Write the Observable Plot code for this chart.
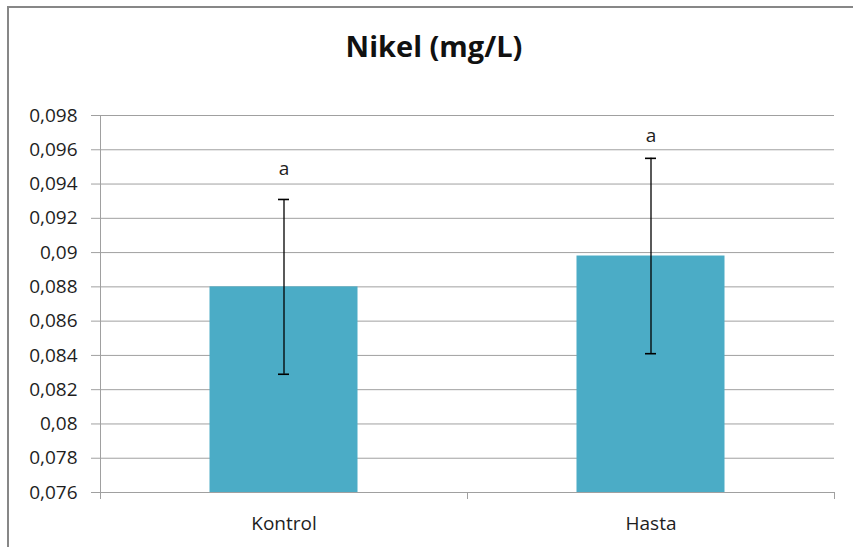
<!DOCTYPE html>
<html><head><meta charset="utf-8">
<script src="https://cdn.jsdelivr.net/npm/d3@7"></script>
<script src="https://cdn.jsdelivr.net/npm/@observablehq/plot@0.6"></script>
<style>
html,body{margin:0;padding:0;background:#fff;}
#wrap{position:relative;width:853px;height:547px;overflow:hidden;background:#fff;font-family:"Open Sans",sans-serif;}
#frame{position:absolute;left:7px;top:6px;width:900px;height:600px;border:2px solid #878787;box-sizing:border-box;}
#title{position:absolute;left:0;width:868px;top:31px;line-height:30px;text-align:center;font-weight:700;font-size:29px;color:#111;}
#chart{position:absolute;left:0;top:0;}
</style></head>
<body>
<div id="wrap"><div id="frame"></div><div id="title">Nikel (mg/L)</div><div id="chart"></div></div>
<script>
const titleText = "Nikel (mg/L)";
const categories = ["Kontrol", "Hasta"];
const means = [0.0880, 0.0898];
const errors = [0.0051, 0.0057];
const sigLetters = ["a", "a"];
const letterY = [0.0949, 0.0968];
const yDomain = [0.076, 0.098];
const yTicks = [0.076, 0.078, 0.08, 0.082, 0.084, 0.086, 0.088, 0.09, 0.092, 0.094, 0.096, 0.098];

const rows = categories.map((c, i) => ({group: c, mean: means[i], err: errors[i], letter: sigLetters[i], ly: letterY[i]}));
const fmt = d => String(+d.toFixed(3)).replace(".", ",");
const gridColor = "#a0a0a0";
const textColor = "#1e1e1e";
const bandW = (853 - 100 - 19) / categories.length;
const barInset = (bandW - 148) / 2;
const capInset = (bandW - 11) / 2;

const chart = Plot.plot({
  width: 853, height: 547,
  marginLeft: 100, marginRight: 19, marginTop: 115, marginBottom: 55,
  style: {background: "transparent", fontFamily: "'Open Sans', sans-serif", fontSize: "19px", color: textColor},
  x: {domain: categories, padding: 0},
  y: {domain: yDomain},
  marks: [
    Plot.gridY(yTicks, {stroke: gridColor, strokeOpacity: 1, strokeWidth: 1}),
    Plot.barY(rows, {x: "group", y1: () => yDomain[0], y2: "mean", fill: "#4BACC6", insetLeft: barInset, insetRight: barInset}),
    Plot.ruleY([yDomain[0]], {stroke: gridColor, strokeWidth: 1}),
    Plot.ruleX(rows, {x: "group", y1: d => d.mean - d.err, y2: d => d.mean + d.err, stroke: "#000", strokeWidth: 1.3}),
    Plot.tickY(rows, {x: "group", y: d => d.mean + d.err, stroke: "#000", strokeWidth: 1.6, insetLeft: capInset, insetRight: capInset}),
    Plot.tickY(rows, {x: "group", y: d => d.mean - d.err, stroke: "#000", strokeWidth: 1.6, insetLeft: capInset, insetRight: capInset}),
    Plot.text(rows, {x: "group", y: "ly", text: "letter", fill: textColor, fontSize: 19}),
    Plot.axisY(yTicks, {tickSize: 9, tickPadding: 14, tickFormat: fmt, stroke: gridColor, fill: textColor, strokeOpacity: 1, label: null}),
    Plot.axisX({tickSize: 0, tickPadding: 24, fill: textColor, label: null})
  ]
});
document.getElementById("chart").appendChild(chart);

// Excel-style axis line and category-boundary ticks, drawn from Plot's scales
const X = chart.scale("x"), Y = chart.scale("y");
const svg = d3.select(chart);
const x0 = X.range[0], step = (X.range[1] - X.range[0]) / categories.length;
const yBottom = Y.apply(yDomain[0]), yTop = Y.apply(yDomain[1]);
const g = svg.append("g").attr("stroke", gridColor).attr("stroke-width", 1);
g.append("line").attr("x1", x0 + 0.5).attr("x2", x0 + 0.5).attr("y1", yTop).attr("y2", yBottom + 7);
for (let i = 0; i <= categories.length; i++) {
  const xx = Math.round(x0 + i * step) + 0.5;
  g.append("line").attr("x1", xx).attr("x2", xx).attr("y1", yBottom).attr("y2", yBottom + 7);
}
</script>
</body></html>
